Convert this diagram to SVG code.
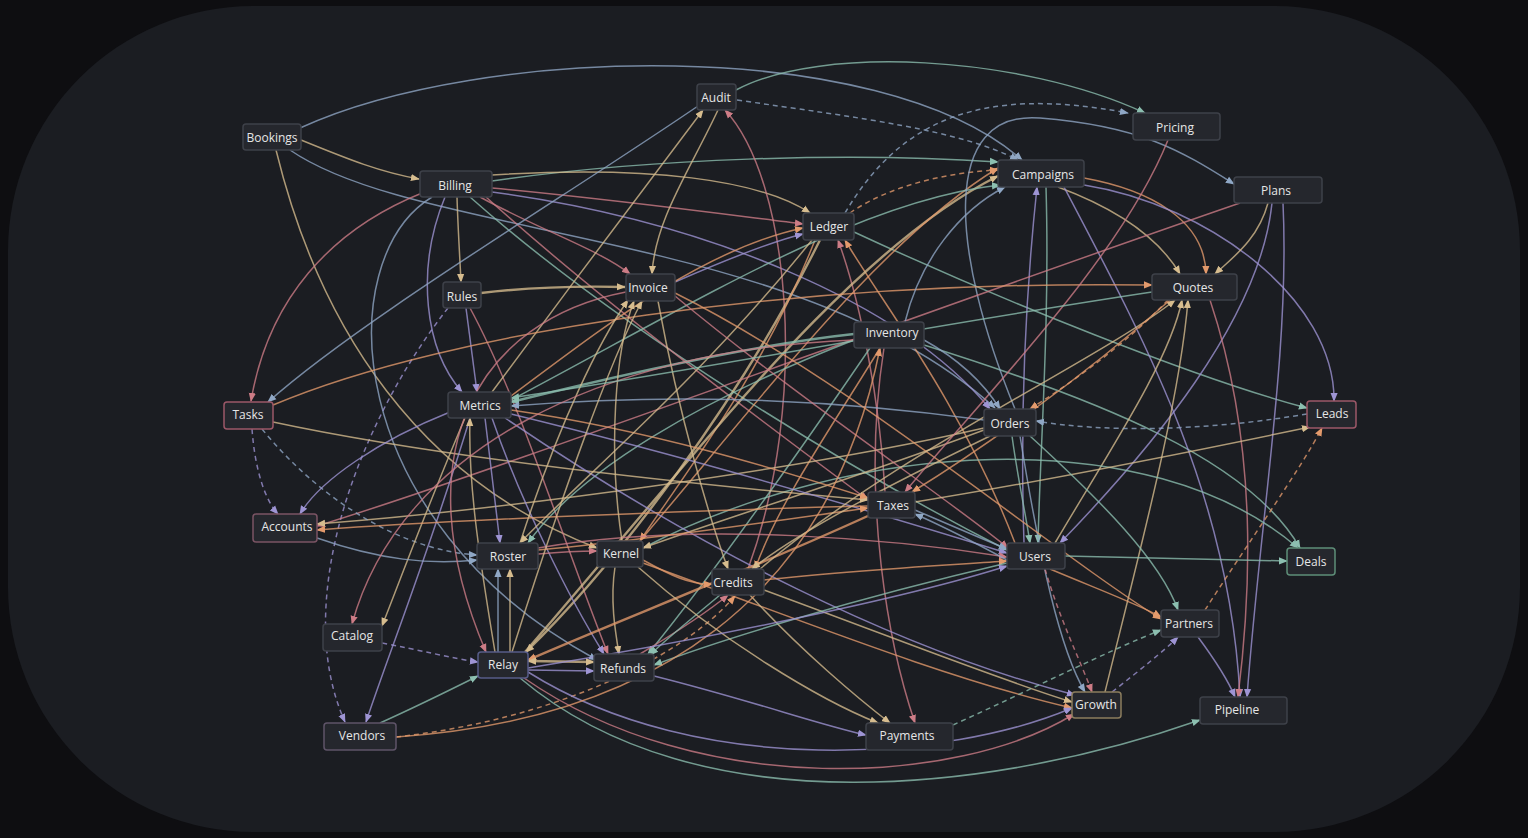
<svg xmlns="http://www.w3.org/2000/svg" width="1528" height="838" viewBox="0 0 1528 838">
<defs>
<style>
.n rect{fill:#25272d;stroke:#3e4149;stroke-width:1.5}
.n text{fill:#e6e6e6;font-family:"Open Sans","Liberation Sans",sans-serif;font-size:12px;text-anchor:middle;dominant-baseline:central}
#edges path{fill:none;stroke-width:1.5;stroke-opacity:.78}
.t{stroke:#d6bc8e;marker-end:url(#mt)}
.s{stroke:#e39a6c;marker-end:url(#ms)}
.p{stroke:#cd7c86;marker-end:url(#mp)}
.l{stroke:#9e94d4;marker-end:url(#ml)}
.b{stroke:#8fa7c5;marker-end:url(#mb)}
.c{stroke:#8cbfb0;marker-end:url(#mc)}
.d{stroke-dasharray:5 4}
.w{stroke-width:2.4!important}
</style>
<marker id="mt" viewBox="0 0 10 10" refX="9" refY="5" markerWidth="9" markerHeight="9" markerUnits="userSpaceOnUse" orient="auto-start-reverse"><path d="M0,1 L10,5 L0,9 z" fill="#d6bc8e"/></marker>
<marker id="ms" viewBox="0 0 10 10" refX="9" refY="5" markerWidth="9" markerHeight="9" markerUnits="userSpaceOnUse" orient="auto-start-reverse"><path d="M0,1 L10,5 L0,9 z" fill="#e39a6c"/></marker>
<marker id="mp" viewBox="0 0 10 10" refX="9" refY="5" markerWidth="9" markerHeight="9" markerUnits="userSpaceOnUse" orient="auto-start-reverse"><path d="M0,1 L10,5 L0,9 z" fill="#cd7c86"/></marker>
<marker id="ml" viewBox="0 0 10 10" refX="9" refY="5" markerWidth="9" markerHeight="9" markerUnits="userSpaceOnUse" orient="auto-start-reverse"><path d="M0,1 L10,5 L0,9 z" fill="#9e94d4"/></marker>
<marker id="mb" viewBox="0 0 10 10" refX="9" refY="5" markerWidth="9" markerHeight="9" markerUnits="userSpaceOnUse" orient="auto-start-reverse"><path d="M0,1 L10,5 L0,9 z" fill="#8fa7c5"/></marker>
<marker id="mc" viewBox="0 0 10 10" refX="9" refY="5" markerWidth="9" markerHeight="9" markerUnits="userSpaceOnUse" orient="auto-start-reverse"><path d="M0,1 L10,5 L0,9 z" fill="#8cbfb0"/></marker>
</defs>
<rect width="1528" height="838" fill="#0e0e11"/>
<rect x="8" y="6" width="1512" height="826" rx="245" ry="245" fill="#1b1d22"/>
<g id="edges">
<path class="b" d="M300,128 C480,45 880,35 1022,160"/>
<path class="c" d="M736,90 C820,45 1020,55 1145,113"/>
<path class="b d" d="M737,100 C860,118 960,130 1018,160"/>
<path class="b d" d="M845,213 C900,120 980,85 1128,113"/>
<path class="s d" d="M850,213 C890,185 950,172 998,170"/>
<path class="t" d="M301,140 C350,160 380,172 419,179"/>
<path class="b" d="M290,150 C420,240 800,230 995,408"/>
<path class="t" d="M276,150 C320,330 420,480 597,548"/>
<path class="t" d="M457,197 C458,230 460,260 461,282"/>
<path class="c" d="M492,181 C650,158 850,152 998,162"/>
<path class="t" d="M492,175 C650,165 760,180 810,213"/>
<path class="p" d="M492,188 C620,200 730,215 803,224"/>
<path class="p" d="M480,197 C540,230 600,250 630,274"/>
<path class="p" d="M422,193 C330,230 268,300 251,401"/>
<path class="l" d="M445,197 C415,270 425,350 462,392"/>
<path class="b" d="M432,197 C330,260 340,520 597,660"/>
<path class="c" d="M470,197 C620,330 850,470 1007,550"/>
<path class="p" d="M486,197 C600,300 760,420 868,500"/>
<path class="l" d="M492,192 C700,220 900,300 990,409"/>
<path class="t w" d="M481,293 C530,287 580,286 625,287"/>
<path class="l" d="M466,308 C470,340 474,370 477,392"/>
<path class="l d" d="M448,308 C360,420 290,600 345,722"/>
<path class="p" d="M470,308 C520,400 570,560 608,654"/>
<path class="t" d="M718,110 C690,170 655,220 652,274"/>
<path class="t" d="M492,392 C560,300 650,180 703,110"/>
<path class="b" d="M698,106 C560,200 360,320 268,402"/>
<path class="p" d="M748,569 C810,400 790,180 725,110"/>
<path class="p" d="M885,492 C880,400 860,300 838,240"/>
<path class="s" d="M1015,543 C960,400 880,300 845,240"/>
<path class="t w" d="M820,240 C740,400 620,560 526,652"/>
<path class="s" d="M815,240 C760,380 680,480 640,541"/>
<path class="c" d="M854,232 C1000,300 1200,380 1307,408"/>
<path class="c" d="M924,345 C1100,400 1250,460 1300,548"/>
<path class="l" d="M675,282 C730,258 770,242 803,234"/>
<path class="s" d="M511,396 C600,330 700,250 803,228"/>
<path class="t" d="M1058,187 C1120,210 1160,240 1180,274"/>
<path class="s" d="M1084,178 C1150,190 1205,220 1206,274"/>
<path class="l" d="M1084,185 C1210,205 1335,300 1334,401"/>
<path class="l" d="M1064,187 C1150,350 1230,500 1240,697"/>
<path class="c" d="M1046,187 C1050,320 1040,450 1038,543"/>
<path class="l" d="M1024,543 C1020,420 1025,300 1037,187"/>
<path class="t w" d="M525,652 C700,450 850,250 998,176"/>
<path class="s" d="M640,541 C760,400 880,240 998,168"/>
<path class="c" d="M511,400 C700,300 860,200 1000,185"/>
<path class="b" d="M1015,409 C950,250 940,110 1040,118 S1180,150 1234,184"/>
<path class="t" d="M1268,203 C1258,240 1232,258 1215,274"/>
<path class="l" d="M1272,203 C1260,320 1150,450 1060,543"/>
<path class="p" d="M1210,300 C1260,450 1250,600 1238,697"/>
<path class="l" d="M1283,203 C1290,350 1260,520 1247,697"/>
<path class="p" d="M1240,203 C900,320 500,470 317,526"/>
<path class="s" d="M273,405 C450,330 800,280 1152,285"/>
<path class="t" d="M1105,692 C1140,550 1180,400 1188,300"/>
<path class="t" d="M1055,543 C1110,450 1170,360 1182,300"/>
<path class="s d" d="M1168,300 C1120,350 1060,390 1030,409"/>
<path class="c w" d="M854,334 C750,345 600,380 511,402"/>
<path class="c" d="M854,340 C700,400 580,470 528,543"/>
<path class="s" d="M880,348 C830,430 780,500 755,569"/>
<path class="p" d="M884,348 C860,500 890,650 915,723"/>
<path class="c" d="M870,348 C780,480 700,590 648,654"/>
<path class="b" d="M905,322 C920,260 960,210 1005,187"/>
<path class="b d" d="M1307,414 C1200,432 1100,432 1036,421"/>
<path class="c" d="M1012,436 C1018,480 1025,510 1030,543"/>
<path class="b" d="M984,420 C800,395 650,395 511,406"/>
<path class="t" d="M984,428 C800,470 500,510 317,524"/>
<path class="c" d="M643,548 C850,440 1150,420 1298,548"/>
<path class="b" d="M1020,436 C1040,560 1060,650 1085,692"/>
<path class="t" d="M984,430 C850,480 720,520 643,548"/>
<path class="l d" d="M252,429 C255,470 265,500 278,514"/>
<path class="b d" d="M262,429 C320,500 400,550 477,555"/>
<path class="t" d="M273,422 C450,460 700,485 868,500"/>
<path class="l" d="M485,418 C490,460 495,500 500,543"/>
<path class="l" d="M492,418 C520,500 570,600 604,654"/>
<path class="s" d="M511,410 C650,430 780,470 868,498"/>
<path class="l" d="M511,414 C700,460 900,520 1007,553"/>
<path class="l" d="M505,418 C700,550 900,650 1075,695"/>
<path class="t" d="M465,418 C430,500 400,580 382,626"/>
<path class="l" d="M470,418 C430,550 390,650 366,722"/>
<path class="t" d="M495,652 C478,550 468,480 470,418"/>
<path class="l" d="M450,412 C380,440 320,480 300,514"/>
<path class="l" d="M654,676 C750,700 820,725 866,735"/>
<path class="b" d="M317,538 C380,560 430,565 477,560"/>
<path class="s" d="M868,506 C700,510 450,520 317,530"/>
<path class="p" d="M538,554 C560,552 580,551 597,551"/>
<path class="b" d="M498,652 L498,569"/>
<path class="t" d="M510,652 L510,569"/>
<path class="t" d="M812,240 C700,380 580,480 520,543"/>
<path class="p" d="M538,548 C700,520 900,540 1007,557"/>
<path class="t" d="M615,567 C610,600 615,630 619,654"/>
<path class="s" d="M643,560 C670,575 690,585 712,584"/>
<path class="t" d="M622,541 C608,450 615,350 634,301"/>
<path class="s" d="M643,563 C800,620 950,680 1072,708"/>
<path class="t" d="M658,301 C680,420 710,520 728,569"/>
<path class="p" d="M675,296 C800,400 950,500 1008,548"/>
<path class="t" d="M512,652 C560,500 610,360 642,301"/>
<path class="t" d="M520,543 C560,420 600,340 628,300"/>
<path class="s" d="M675,293 C850,380 1050,550 1161,619"/>
<path class="s" d="M538,550 C650,540 780,520 868,508"/>
<path class="b" d="M915,510 C950,525 980,538 1007,549"/>
<path class="b" d="M1007,560 C970,540 940,525 915,514"/>
<path class="t" d="M915,502 C1050,480 1200,450 1310,427"/>
<path class="s w" d="M870,515 C750,570 620,620 528,660"/>
<path class="t" d="M990,436 C900,480 800,530 752,569"/>
<path class="p" d="M854,340 C600,350 400,450 352,624"/>
<path class="s" d="M764,580 C850,570 950,565 1007,561"/>
<path class="t" d="M764,590 C900,640 1000,680 1072,702"/>
<path class="t" d="M750,595 C800,650 860,700 890,723"/>
<path class="p" d="M640,654 C680,630 710,610 728,595"/>
<path class="s d" d="M396,737 C550,720 680,660 735,596"/>
<path class="c" d="M720,595 C690,620 665,640 650,655"/>
<path class="c" d="M1065,556 C1150,558 1220,560 1287,561"/>
<path class="s" d="M1050,569 C1100,590 1140,605 1161,617"/>
<path class="p d" d="M1045,569 C1060,620 1080,660 1092,692"/>
<path class="c" d="M1007,563 C850,600 720,640 654,665"/>
<path class="t" d="M760,569 C900,450 1100,360 1175,300"/>
<path class="s d" d="M1205,610 C1250,540 1300,470 1322,428"/>
<path class="l" d="M1198,637 C1215,660 1228,680 1235,697"/>
<path class="c d" d="M953,725 C1030,690 1110,650 1161,630"/>
<path class="l d" d="M1112,692 C1140,670 1165,650 1178,637"/>
<path class="c" d="M1030,436 C1100,500 1160,560 1178,610"/>
<path class="l" d="M528,672 C700,780 950,760 1072,708"/>
<path class="p" d="M524,678 C700,800 960,785 1074,714"/>
<path class="c" d="M520,678 C700,830 1000,790 1200,720"/>
<path class="t w" d="M528,661 L594,662" style="marker-start:url(#mt)"/>
<path class="l" d="M528,670 L594,671"/>
<path class="l d" d="M382,643 C420,650 450,658 478,662"/>
<path class="c" d="M380,723 C420,705 450,690 478,676"/>
<path class="p" d="M626,292 C480,320 400,450 486,652"/>
<path class="s" d="M396,737 C650,720 830,600 880,348"/>
<path class="p" d="M1168,140 C1120,260 980,400 905,492"/>
<path class="b" d="M924,340 C960,360 985,385 1000,409"/>
<path class="t" d="M638,567 C720,640 820,700 878,723"/>
<path class="l" d="M528,668 C700,640 900,600 1007,566"/>
<path class="c" d="M1152,292 C900,330 700,370 511,398"/>
<path class="s" d="M1170,300 C1080,380 980,450 912,492"/>
</g>
<g id="n-bookings" class="n"><rect x="243" y="124" width="58" height="26" rx="3"/><text x="272" y="137">Bookings</text></g>
<g id="n-billing" class="n"><rect x="420" y="171" width="72" height="26" rx="3"/><text x="455" y="185">Billing</text></g>
<g id="n-audit" class="n"><rect x="697" y="84" width="39" height="26" rx="3"/><text x="716" y="97">Audit</text></g>
<g id="n-pricing" class="n"><rect x="1133" y="113" width="87" height="27" rx="3"/><text x="1175" y="127">Pricing</text></g>
<g id="n-campaigns" class="n"><rect x="998" y="160" width="86" height="27" rx="3"/><text x="1043" y="174">Campaigns</text></g>
<g id="n-plans" class="n"><rect x="1234" y="177" width="88" height="26" rx="3"/><text x="1276" y="190">Plans</text></g>
<g id="n-ledger" class="n"><rect x="803" y="213" width="51" height="27" rx="3"/><text x="829" y="226">Ledger</text></g>
<g id="n-invoice" class="n"><rect x="626" y="274" width="49" height="27" rx="3"/><text x="648" y="287">Invoice</text></g>
<g id="n-rules" class="n"><rect x="443" y="282" width="38" height="26" rx="3"/><text x="462" y="296">Rules</text></g>
<g id="n-quotes" class="n"><rect x="1152" y="274" width="85" height="26" rx="3"/><text x="1193" y="287">Quotes</text></g>
<g id="n-inventory" class="n"><rect x="854" y="322" width="70" height="26" rx="3"/><text x="892" y="332">Inventory</text></g>
<g id="n-tasks" class="n"><rect x="224" y="402" width="49" height="27" rx="3" style="stroke:#9c5868"/><text x="248" y="414">Tasks</text></g>
<g id="n-metrics" class="n"><rect x="448" y="392" width="63" height="26" rx="3"/><text x="480" y="405">Metrics</text></g>
<g id="n-orders" class="n"><rect x="984" y="409" width="52" height="27" rx="3"/><text x="1010" y="423">Orders</text></g>
<g id="n-leads" class="n"><rect x="1307" y="401" width="49" height="27" rx="3" style="stroke:#9c5868"/><text x="1332" y="413">Leads</text></g>
<g id="n-taxes" class="n"><rect x="868" y="492" width="47" height="26" rx="3"/><text x="893" y="505">Taxes</text></g>
<g id="n-accounts" class="n"><rect x="253" y="514" width="64" height="28" rx="3" style="stroke:#7b5464"/><text x="287" y="526">Accounts</text></g>
<g id="n-roster" class="n"><rect x="477" y="543" width="61" height="26" rx="3"/><text x="508" y="556">Roster</text></g>
<g id="n-kernel" class="n"><rect x="597" y="541" width="46" height="26" rx="3"/><text x="621" y="553">Kernel</text></g>
<g id="n-credits" class="n"><rect x="712" y="569" width="52" height="26" rx="3"/><text x="733" y="582">Credits</text></g>
<g id="n-users" class="n"><rect x="1007" y="543" width="58" height="26" rx="3"/><text x="1035" y="556">Users</text></g>
<g id="n-deals" class="n"><rect x="1287" y="548" width="48" height="27" rx="3" style="stroke:#5e8e78"/><text x="1311" y="561">Deals</text></g>
<g id="n-catalog" class="n"><rect x="323" y="624" width="59" height="27" rx="3"/><text x="352" y="635">Catalog</text></g>
<g id="n-relay" class="n"><rect x="478" y="652" width="50" height="26" rx="3" style="stroke:#575c88"/><text x="503" y="664">Relay</text></g>
<g id="n-refunds" class="n"><rect x="594" y="654" width="60" height="27" rx="3"/><text x="623" y="668">Refunds</text></g>
<g id="n-partners" class="n"><rect x="1161" y="610" width="58" height="27" rx="3"/><text x="1189" y="623">Partners</text></g>
<g id="n-growth" class="n"><rect x="1072" y="692" width="49" height="26" rx="3" style="stroke:#8c7d5e"/><text x="1096" y="704">Growth</text></g>
<g id="n-pipeline" class="n"><rect x="1200" y="697" width="87" height="27" rx="3"/><text x="1237" y="709">Pipeline</text></g>
<g id="n-vendors" class="n"><rect x="324" y="723" width="72" height="27" rx="3" style="stroke:#5f5468"/><text x="362" y="735">Vendors</text></g>
<g id="n-payments" class="n"><rect x="866" y="723" width="87" height="27" rx="3"/><text x="907" y="735">Payments</text></g>
</svg>
